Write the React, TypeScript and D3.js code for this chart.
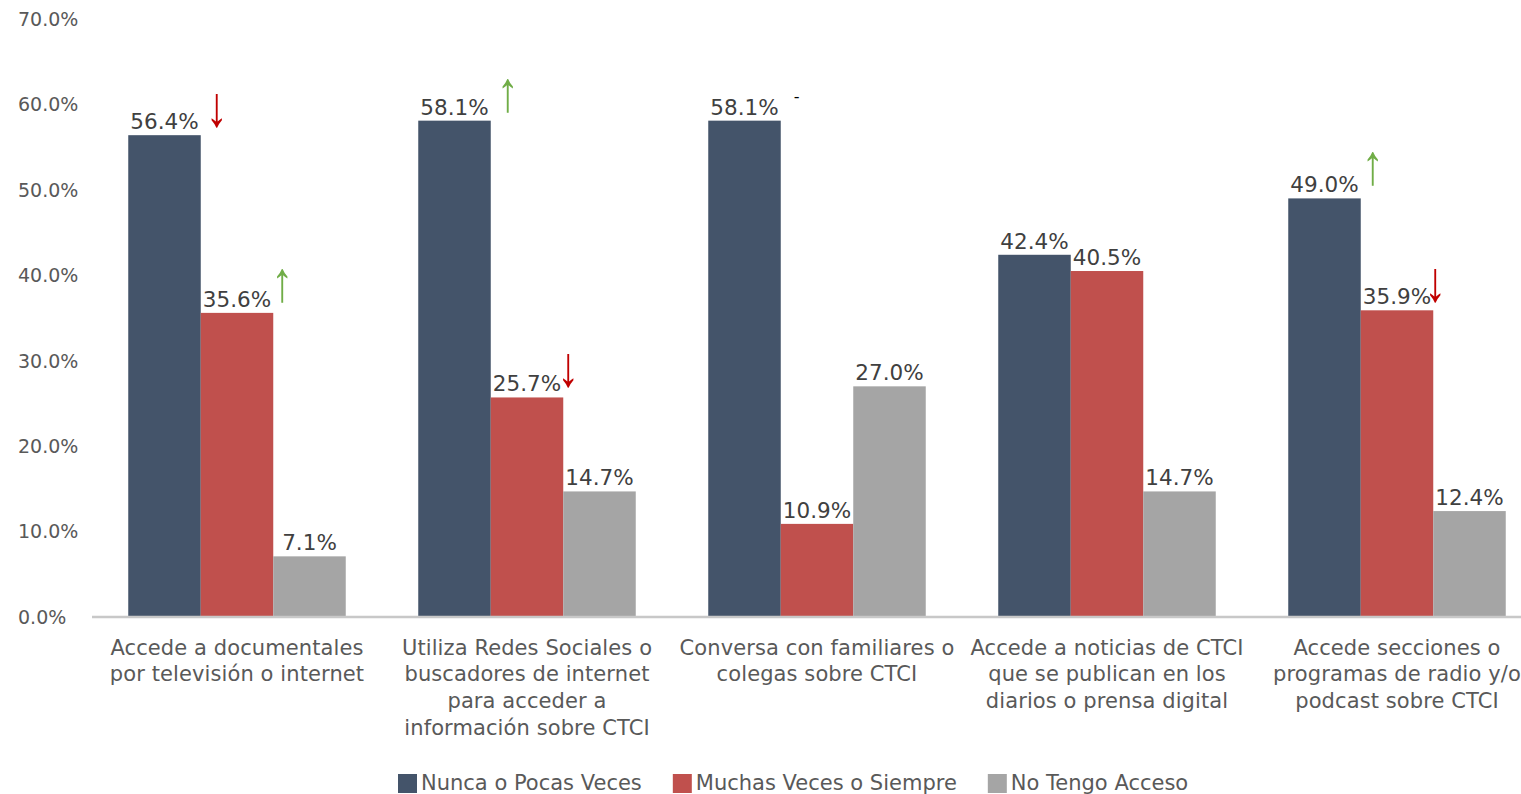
import React, { useEffect, useRef } from "react";
import * as d3 from "d3";

const categories = [
  "Accede a documentales\npor televisión o internet",
  "Utiliza Redes Sociales o\nbuscadores de internet\npara acceder a\ninformación sobre CTCI",
  "Conversa con familiares o\ncolegas sobre CTCI",
  "Accede a noticias de CTCI\nque se publican en los\ndiarios o prensa digital",
  "Accede secciones o\nprogramas de radio y/o\npodcast sobre CTCI",
];
const seriesNames = ["Nunca o Pocas Veces", "Muchas Veces o Siempre", "No Tengo Acceso"];
const nuncaValues = [0.564, 0.581, 0.581, 0.424, 0.49];
const muchasValues = [0.356, 0.257, 0.109, 0.405, 0.359];
const noAccesoValues = [0.071, 0.147, 0.27, 0.147, 0.124];
const yTicks = [0, 0.1, 0.2, 0.3, 0.4, 0.5, 0.6, 0.7];
// trend markers: category index, series index, direction
const trendCats = [0, 0, 1, 1, 2, 4, 4];
const trendSeries = [0, 1, 0, 1, 0, 0, 1];
const trendDirs = ["down", "up", "up", "down", "flat", "up", "down"];

const COLORS = ["#44546a", "#c0504d", "#a5a5a5"];
const TREND_NUDGE = [16, 9, 17, 5, 16, 12, 2];
const TREND_LIFT = [8, 11, 9, 10, 0, 13, 8];

export default function App() {
  const ref = useRef<SVGSVGElement>(null);
  useEffect(() => {
    const svg = d3.select(ref.current);
    svg.selectAll("*").remove();
    const values = [nuncaValues, muchasValues, noAccesoValues];
    const font = "'DejaVu Sans', Verdana, sans-serif";

    const y = d3.scaleLinear().domain([0, 0.7]).range([617, 19]);
    const x = d3
      .scaleBand<number>()
      .domain(d3.range(categories.length))
      .range([92, 1542])
      .paddingInner(0.25)
      .paddingOuter(0.125);
    const xs = d3.scaleBand<number>().domain([0, 1, 2]).range([0, x.bandwidth()]);
    const fmt = d3.format(".1%");

    // y tick labels
    svg
      .append("g")
      .selectAll("text")
      .data(yTicks)
      .join("text")
      .attr("x", 18)
      .attr("y", (d) => y(d))
      .attr("dy", "0.36em")
      .attr("font-family", font)
      .attr("font-size", 19)
      .attr("fill", "#595959")
      .text((d) => fmt(d));

    // bars
    const groups = svg
      .append("g")
      .selectAll("g")
      .data(categories.map((_, i) => i))
      .join("g")
      .attr("transform", (i) => `translate(${x(i)},0)`);

    groups
      .selectAll("rect")
      .data((i) => values.map((vals, s) => ({ s, v: vals[i] })))
      .join("rect")
      .attr("x", (d) => xs(d.s)!)
      .attr("width", xs.bandwidth())
      .attr("y", (d) => y(d.v))
      .attr("height", (d) => y(0) - y(d.v))
      .attr("fill", (d) => COLORS[d.s]);

    groups
      .selectAll("text.val")
      .data((i) => values.map((vals, s) => ({ s, v: vals[i] })))
      .join("text")
      .attr("class", "val")
      .attr("x", (d) => xs(d.s)! + xs.bandwidth() / 2)
      .attr("y", (d) => y(d.v) - 6)
      .attr("text-anchor", "middle")
      .attr("font-family", font)
      .attr("font-size", 21.5)
      .attr("fill", "#404040")
      .text((d) => fmt(d.v));

    // axis line
    svg
      .append("line")
      .attr("x1", 92)
      .attr("x2", 1521)
      .attr("y1", y(0))
      .attr("y2", y(0))
      .attr("stroke", "#c8c8c8")
      .attr("stroke-width", 2.5);

    // category labels
    const cat = svg
      .append("g")
      .selectAll("text")
      .data(categories.map((c, i) => ({ c, i })))
      .join("text")
      .attr("text-anchor", "middle")
      .attr("font-family", font)
      .attr("font-size", 21)
      .attr("letter-spacing", 0.1)
      .attr("fill", "#595959");
    cat
      .selectAll("tspan")
      .data((d) => d.c.split("\n").map((line, k) => ({ line, k, i: d.i })))
      .join("tspan")
      .attr("x", (d) => x(d.i)! + x.bandwidth() / 2)
      .attr("y", (d) => 654.5 + d.k * 26.8)
      .text((d) => d.line);

    // trend markers
    trendCats.forEach((ci, k) => {
      const s = trendSeries[k];
      const v = values[s][ci];
      const barRight = x(ci)! + xs(s)! + xs.bandwidth();
      const cx = barRight + TREND_NUDGE[k];
      const dir = trendDirs[k];
      if (dir === "flat") {
        svg
          .append("text")
          .attr("x", cx)
          .attr("y", y(v) - 19)
          .attr("text-anchor", "middle")
          .attr("font-family", font)
          .attr("font-size", 16)
          .attr("fill", "#000")
          .text("-");
      } else {
        const bottom = y(v) - TREND_LIFT[k];
        svg
          .append("text")
          .attr("transform", `translate(${cx},${bottom - 1}) scale(1,1.3)`)
          .attr("text-anchor", "middle")
          .attr("font-family", "'Liberation Sans', Arial, sans-serif")
          .attr("font-size", 44)
          .attr("fill", dir === "up" ? "#70ad47" : "#c00000")
          .text(dir === "up" ? "↑" : "↓");
      }
    });

    // legend
    const leg = svg.append("g");
    let lx = 398;
    seriesNames.forEach((name, s) => {
      leg
        .append("rect")
        .attr("x", lx)
        .attr("y", 774)
        .attr("width", 19)
        .attr("height", 19)
        .attr("fill", COLORS[s]);
      const t = leg
        .append("text")
        .attr("x", lx + 23)
        .attr("y", 790)
        .attr("font-family", font)
        .attr("font-size", 21)
        .attr("fill", "#595959")
        .text(name);
      const w = (t.node() as SVGTextElement).getComputedTextLength();
      lx = lx + 23 + w + 31;
    });
  }, []);

  return (
    <svg
      ref={ref}
      width={1521}
      height={794}
      style={{ position: "absolute", left: 0, top: 0, background: "#fff" }}
    />
  );
}
